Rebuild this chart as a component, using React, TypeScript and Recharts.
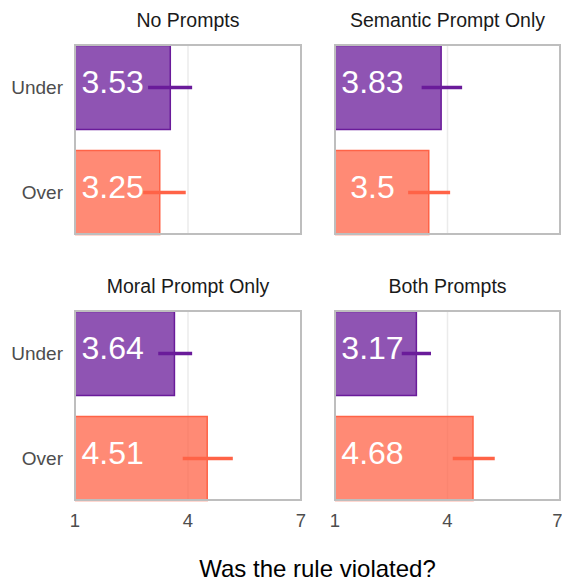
import React from "react";
import {
  BarChart,
  Bar,
  XAxis,
  YAxis,
  CartesianGrid,
  ErrorBar,
  LabelList,
} from "recharts";

// facet titles, in reading order
const panelTitles = [
  "No Prompts",
  "Semantic Prompt Only",
  "Moral Prompt Only",
  "Both Prompts",
];
const categories = ["Under", "Over"];

// means and interval ends
const underMeans = [3.53, 3.83, 3.64, 3.17];
const overMeans = [3.25, 3.5, 4.51, 4.68];
const underLow = [2.94, 3.31, 3.21, 2.78];
const underHigh = [4.11, 4.39, 4.11, 3.56];
const overLow = [2.81, 2.95, 3.86, 4.14];
const overHigh = [3.94, 4.07, 5.19, 5.26];

const xTicks = [1, 4, 7];
const labelAt = 2; // labels sit centred at x = 2

const PURPLE = "#6A1B9A";
const TOMATO = "#FF6347";
const FONT = "'Liberation Sans', Arial, Helvetica, sans-serif";

const panelData = (i: number) => [
  {
    cat: categories[0],
    under: underMeans[i],
    underErr: [underMeans[i] - underLow[i], underHigh[i] - underMeans[i]],
  },
  {
    cat: categories[1],
    over: overMeans[i],
    overErr: [overMeans[i] - overLow[i], overHigh[i] - overMeans[i]],
  },
];

const renderLabel = (props: any) => {
  const vb = props.viewBox ?? props;
  const value = props.value;
  if (value == null || vb == null) return null;
  const x = Number(vb.x);
  const w = Number(vb.width);
  const pxPerUnit = w / (Number(value) - 1);
  return (
    <text
      x={x + pxPerUnit * (labelAt - 1)}
      y={Number(vb.y) + Number(vb.height) / 2 + 5.5}
      textAnchor="middle"
      fill="#ffffff"
      fontSize={32}
      fontFamily={FONT}
    >
      {String(value)}
    </text>
  );
};

const emptyTick = () => <g />;

// page layout of the facets
const cols = [
  { left: 0, width: 310, mLeft: 8, mRight: 9, showY: true, px0: 75, px1: 301 },
  { left: 310, width: 252, mLeft: 25, mRight: 2, showY: false, px0: 335, px1: 560 },
];
const rows = [
  { top: 0, height: 250, mTop: 45, mBottom: 16, showX: false, py0: 45, py1: 234 },
  { top: 260, height: 322, mTop: 51, mBottom: 52, showX: true, py0: 311, py1: 500 },
];

const Facet = ({ index, col, row }: { index: number; col: any; row: any }) => {
  const data = panelData(index);
  return (
    <div style={{ position: "absolute", left: col.left, top: row.top }}>
      <BarChart
        width={col.width}
        height={row.height}
        data={data}
        layout="vertical"
        barSize={84}
        barGap={-84}
        margin={{ top: row.mTop, right: col.mRight, bottom: row.mBottom, left: col.mLeft }}
      >
        <CartesianGrid horizontal={false} stroke="#EBEBEB" strokeWidth={1.5} />
        <XAxis
          type="number"
          domain={[1, 7]}
          ticks={xTicks}
          allowDataOverflow
          axisLine={false}
          tickLine={false}
          tick={row.showX ? { fill: "#4D4D4D", fontSize: 18.5, fontFamily: FONT } : emptyTick}
          height={row.showX ? 30 : 0}
          tickSize={6}
          tickMargin={8}
        />
        <YAxis
          type="category"
          dataKey="cat"
          hide={!col.showY}
          width={67}
          padding={{ top: -10.5, bottom: -10.5 }}
          axisLine={false}
          tickLine={false}
          tickSize={6}
          tickMargin={6}
          tick={{ fill: "#4D4D4D", fontSize: 19, fontFamily: FONT }}
        />
        <Bar
          dataKey="under"
          fill={PURPLE}
          fillOpacity={0.75}
          stroke={PURPLE}
          strokeWidth={1.5}
          isAnimationActive={false}
        >
          <ErrorBar
            dataKey="underErr"
            direction="x"
            width={0}
            stroke={PURPLE}
            strokeWidth={3.5}
            isAnimationActive={false}
          />
          <LabelList dataKey="under" content={renderLabel} />
        </Bar>
        <Bar
          dataKey="over"
          fill={TOMATO}
          fillOpacity={0.75}
          stroke={TOMATO}
          strokeWidth={1.5}
          isAnimationActive={false}
        >
          <ErrorBar
            dataKey="overErr"
            direction="x"
            width={0}
            stroke={TOMATO}
            strokeWidth={3.5}
            isAnimationActive={false}
          />
          <LabelList dataKey="over" content={renderLabel} />
        </Bar>
      </BarChart>
    </div>
  );
};

export default function App() {
  const facets: { index: number; col: any; row: any }[] = [];
  rows.forEach((row, r) =>
    cols.forEach((col, c) => facets.push({ index: r * 2 + c, col, row }))
  );
  return (
    <div
      style={{
        position: "absolute",
        left: 0,
        top: 0,
        width: 562,
        height: 582,
        background: "#ffffff",
        fontFamily: FONT,
      }}
    >
      {facets.map((f) => (
        <Facet key={f.index} {...f} />
      ))}
      <svg
        width={562}
        height={582}
        style={{ position: "absolute", left: 0, top: 0, pointerEvents: "none" }}
      >
        {facets.map((f) => (
          <g key={f.index}>
            <rect
              x={f.col.px0}
              y={f.row.py0}
              width={f.col.px1 - f.col.px0}
              height={f.row.py1 - f.row.py0}
              fill="none"
              stroke="#BEBEBE"
              strokeWidth={2}
            />
            <text
              x={(f.col.px0 + f.col.px1) / 2}
              y={f.row.py0 - 18}
              textAnchor="middle"
              fontSize={19.5}
              fill="#1A1A1A"
              fontFamily={FONT}
            >
              {panelTitles[f.index]}
            </text>
          </g>
        ))}
        <text
          x={(cols[0].px0 + cols[1].px1) / 2}
          y={577}
          textAnchor="middle"
          fontSize={24}
          fill="#000000"
          fontFamily={FONT}
        >
          Was the rule violated?
        </text>
      </svg>
    </div>
  );
}
